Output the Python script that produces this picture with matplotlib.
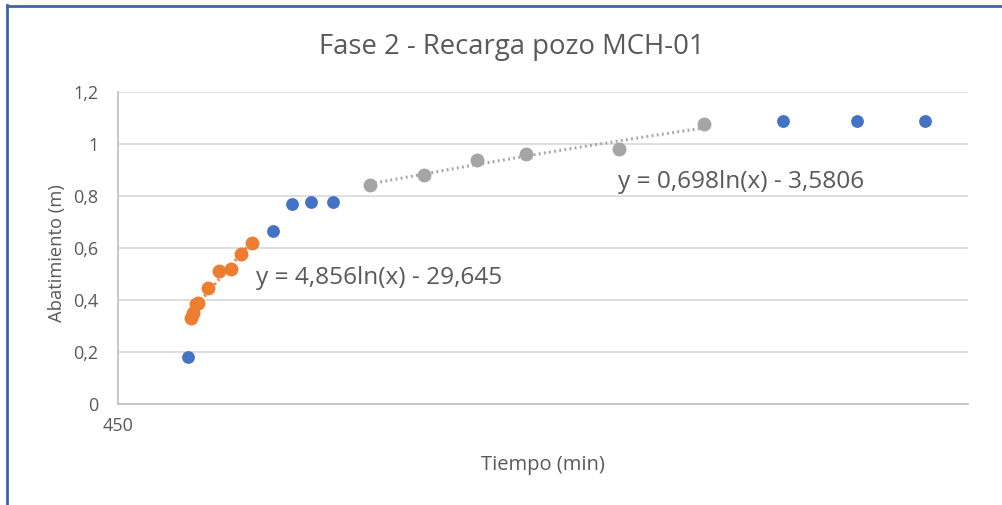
"""
Fase 2 - Recarga pozo MCH-01: abatimiento vs tiempo con tendencias logaritmicas
"""

import matplotlib
matplotlib.use('Agg')
import matplotlib.pyplot as plt
from matplotlib.lines import Line2D
import numpy as np

# Datos
x_blue = [483, 523, 532, 541, 551, 763, 798, 830]
y_blue = [0.18, 0.667, 0.768, 0.776, 0.776, 1.088, 1.088, 1.088]

x_orange = [484.4, 485.3, 486.7, 487.6, 492.5, 497.7, 503.2, 507.9, 513.2]
y_orange = [0.33, 0.35, 0.385, 0.39, 0.445, 0.51, 0.519, 0.578, 0.618]

x_gray = [568.6, 594, 618.8, 642, 685.6, 725.8]
y_gray = [0.842, 0.88, 0.938, 0.962, 0.98, 1.077]

eq_orange = "y = 4,856ln(x) - 29,645"
eq_gray = "y = 0,698ln(x) - 3,5806"

y_ticks = [0, 0.2, 0.4, 0.6, 0.8, 1.0, 1.2]
y_labels = ["0", "0,2", "0,4", "0,6", "0,8", "1", "1,2"]

BLUE = '#4472C4'
ORANGE = '#ED7D31'
GRAY = '#A5A5A5'
TXT = '#595959'
FONT = 'Open Sans'


def log_trend(ax, xs, ys, color):
    """Tendencia logaritmica ajustada sobre los puntos (como Excel)"""
    a, b = np.polyfit(np.log(xs), ys, 1)
    xx = np.linspace(min(xs), max(xs), 100)
    ax.plot(xx, a * np.log(xx) + b, color=color, lw=2.2,
            linestyle=(0, (0.6, 1.1)), zorder=2)


fig = plt.figure(figsize=(10.03, 5.05), dpi=100)
ax = fig.add_axes([118 / 1003, 101 / 505, 850 / 1003, 312 / 505])

ax.scatter(x_blue, y_blue, s=85, color=BLUE, zorder=3, linewidths=0)
ax.scatter(x_orange, y_orange, s=100, color=ORANGE, zorder=3, linewidths=0)
ax.scatter(x_gray, y_gray, s=100, color=GRAY, zorder=3, linewidths=0)
log_trend(ax, x_orange, y_orange, ORANGE)
log_trend(ax, x_gray, y_gray, GRAY)

ax.set_xlim(450, 850)
ax.set_ylim(0, 1.2)
ax.set_yticks(y_ticks)
ax.set_yticklabels(y_labels, fontfamily=FONT, fontsize=13, color=TXT)
ax.set_xticks([])
ax.tick_params(axis='y', length=0, pad=14)
ax.grid(axis='y', color='#D9D9D9', lw=1.2)
ax.set_axisbelow(True)
for side in ['top', 'right']:
    ax.spines[side].set_visible(False)
for side in ['left', 'bottom']:
    ax.spines[side].set_color('#BFBFBF')
    ax.spines[side].set_linewidth(1.2)

ax.text(450, -0.05, "450", ha='center', va='top', fontfamily=FONT,
        fontsize=13, color=TXT)

ax.text(514.9, 0.485, eq_orange, ha='left', va='center', fontfamily=FONT,
        fontsize=17.6, color=TXT)
ax.text(685.3, 0.852, eq_gray, ha='left', va='center', fontfamily=FONT,
        fontsize=17.6, color=TXT)

fig.text(512 / 1003, 1 - 47 / 505, "Fase 2 - Recarga pozo MCH-01",
         ha='center', va='center', fontfamily=FONT, fontsize=19.8, color=TXT)
fig.text(543 / 1003, 1 - 465 / 505, "Tiempo (min)", ha='center', va='center',
         fontfamily=FONT, fontsize=14.5, color=TXT)
fig.text(57 / 1003, 1 - 253 / 505, "Abatimiento (m)", ha='center', va='center',
         rotation=90, fontfamily=FONT, fontsize=13.2, color=TXT)

# marco azul de la captura
fig.add_artist(Line2D([7.5 / 1003, 7.5 / 1003], [0, 1 - 5 / 505],
                      transform=fig.transFigure, color='#3E64A8', lw=2))
fig.add_artist(Line2D([7.5 / 1003, 1], [1 - 5.5 / 505, 1 - 5.5 / 505],
                      transform=fig.transFigure, color='#3E64A8', lw=2))

fig.savefig('out.png', dpi=100)
